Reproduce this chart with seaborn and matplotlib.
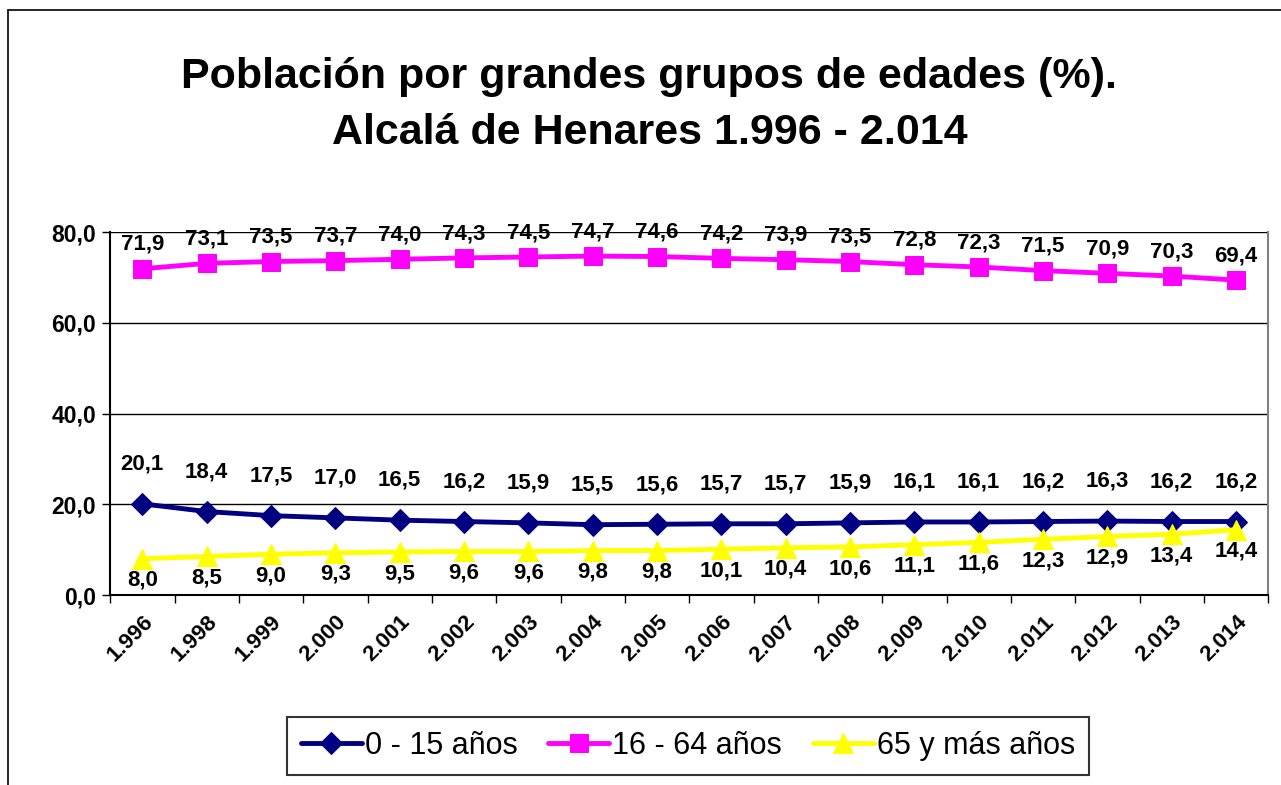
import matplotlib
matplotlib.use("Agg")
import matplotlib.pyplot as plt
from matplotlib.lines import Line2D
from matplotlib.ticker import FuncFormatter
import seaborn as sns
import pandas as pd

# Data
years = ["1.996", "1.998", "1.999", "2.000", "2.001", "2.002", "2.003", "2.004", "2.005",
         "2.006", "2.007", "2.008", "2.009", "2.010", "2.011", "2.012", "2.013", "2.014"]
g_0_15 = [20.1, 18.4, 17.5, 17.0, 16.5, 16.2, 15.9, 15.5, 15.6,
          15.7, 15.7, 15.9, 16.1, 16.1, 16.2, 16.3, 16.2, 16.2]
g_16_64 = [71.9, 73.1, 73.5, 73.7, 74.0, 74.3, 74.5, 74.7, 74.6,
           74.2, 73.9, 73.5, 72.8, 72.3, 71.5, 70.9, 70.3, 69.4]
g_65 = [8.0, 8.5, 9.0, 9.3, 9.5, 9.6, 9.6, 9.8, 9.8,
        10.1, 10.4, 10.6, 11.1, 11.6, 12.3, 12.9, 13.4, 14.4]

series = ["0 - 15 años", "16 - 64 años", "65 y más años"]
colors = {"0 - 15 años": "#000080", "16 - 64 años": "#FF00FF", "65 y más años": "#FFFF00"}
markers = {"0 - 15 años": "D", "16 - 64 años": "s", "65 y más años": "^"}
msize = {"0 - 15 años": 11, "16 - 64 años": 13, "65 y más años": 15}

df = pd.DataFrame({
    "year": years * 3,
    "value": g_0_15 + g_16_64 + g_65,
    "grupo": [series[0]] * len(years) + [series[1]] * len(years) + [series[2]] * len(years),
})

sns.set_style("white")
plt.rcParams["font.family"] = ["Liberation Sans", "DejaVu Sans"]
plt.rcParams["text.color"] = "black"
plt.rcParams["xtick.color"] = "black"
plt.rcParams["ytick.color"] = "black"

fig = plt.figure(figsize=(12.81, 7.85), dpi=100)
ax = fig.add_axes([0.086, 0.242, 0.904, 0.4624])

for name in series:
    sub = df[df["grupo"] == name]
    sns.lineplot(data=sub, x="year", y="value", ax=ax, color=colors[name],
                 linewidth=3.5, marker=markers[name], markersize=msize[name],
                 markeredgecolor=colors[name], label=name, sort=False)

# data labels
lab_fs = 16
xs = range(len(years))
for x, v in zip(xs, g_16_64):
    ax.annotate(f"{v:.1f}".replace(".", ","), (x, v), xytext=(0, 10), textcoords="offset points",
                ha="center", va="bottom", fontsize=lab_fs, fontweight="bold")
for x, v in zip(xs, g_0_15):
    ax.annotate(f"{v:.1f}".replace(".", ","), (x, v), xytext=(0, 21), textcoords="offset points",
                ha="center", va="bottom", fontsize=lab_fs, fontweight="bold")
for x, v in zip(xs, g_65):
    ax.annotate(f"{v:.1f}".replace(".", ","), (x, v), xytext=(0, -8), textcoords="offset points",
                ha="center", va="top", fontsize=lab_fs, fontweight="bold")

ax.set_xlim(-0.5, len(years) - 0.5)
ax.set_ylim(0, 80)
ax.set_yticks([0, 20, 40, 60, 80])
ax.yaxis.set_major_formatter(FuncFormatter(lambda v, p: f"{v:.1f}".replace(".", ",")))
ax.grid(axis="y", color="black", linewidth=1)
ax.set_xlabel("")
ax.set_ylabel("")

ax.set_xticks(list(xs))
ax.set_xticklabels(years, rotation=45, ha="right", rotation_mode="anchor",
                   fontsize=16, fontweight="bold")
ax.set_xticks([i - 0.5 for i in range(len(years) + 1)], minor=True)
ax.tick_params(axis="x", which="major", length=0, pad=12)
ax.tick_params(axis="x", which="minor", length=6, width=1, color="black", direction="out", bottom=True)
ax.tick_params(axis="y", length=6, width=1, color="black", direction="out", left=True,
               labelsize=16.5, pad=4)
for t in ax.get_yticklabels():
    t.set_fontweight("bold")

for s in ["left", "bottom"]:
    ax.spines[s].set_color("black")
    ax.spines[s].set_linewidth(1.5)
ax.spines["top"].set_visible(False)
ax.spines["right"].set_color("#808080")
ax.spines["right"].set_linewidth(1.5)

fig.text(0.507, 0.902, "Población por grandes grupos de edades (%).", ha="center", va="center",
         fontsize=31, fontweight="bold")
fig.text(0.507, 0.83, "Alcalá de Henares 1.996 - 2.014", ha="center", va="center",
         fontsize=31, fontweight="bold")

leg = ax.legend(loc="center", bbox_to_anchor=(0.537, 0.05), bbox_transform=fig.transFigure,
                ncol=3, frameon=True, fancybox=False, edgecolor="black", fontsize=22,
                handlelength=2.0, handletextpad=0.1, columnspacing=1.0, borderpad=0.45)
leg.get_frame().set_linewidth(1.5)

# outer chart frame (left and top edges)
fig.add_artist(Line2D([8 / 1281, 8 / 1281], [0, 1 - 10 / 785], color="black", linewidth=1.2,
                      transform=fig.transFigure))
fig.add_artist(Line2D([8 / 1281, 1], [1 - 10 / 785, 1 - 10 / 785], color="black", linewidth=1.2,
                      transform=fig.transFigure))

fig.savefig("out.png", dpi=100)
